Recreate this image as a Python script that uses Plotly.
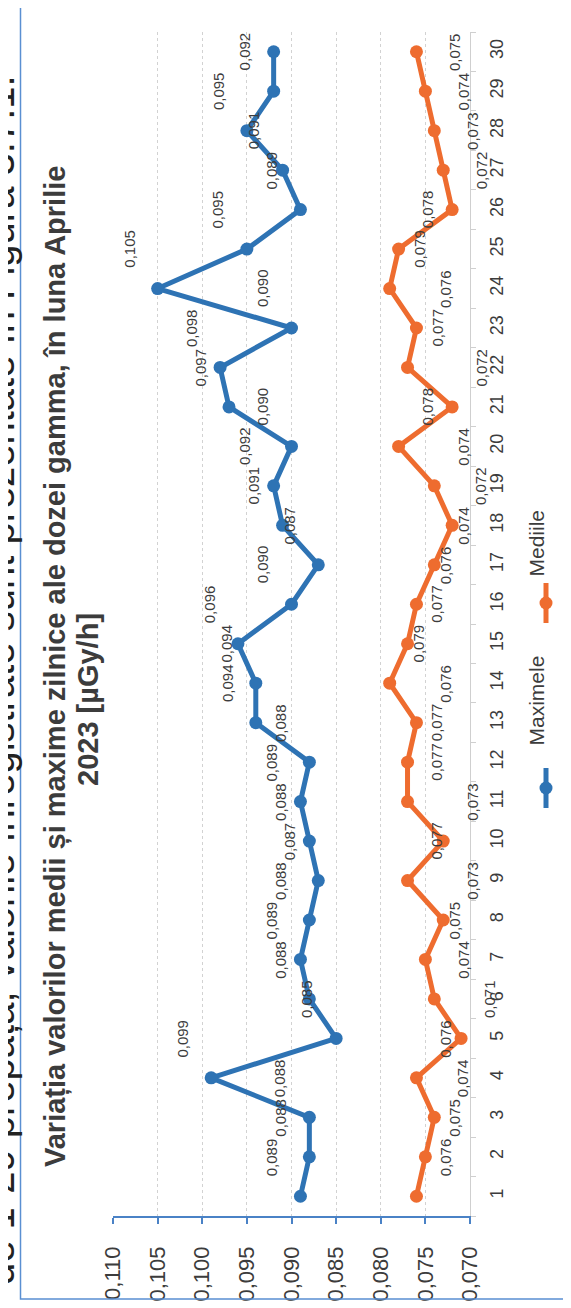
import plotly.graph_objects as go

days = [str(d) for d in range(1, 31)]
maximele = [0.089, 0.088, 0.088, 0.099, 0.085, 0.088, 0.089, 0.088, 0.087, 0.088,
            0.089, 0.088, 0.094, 0.094, 0.096, 0.090, 0.087, 0.091, 0.092, 0.090,
            0.097, 0.098, 0.090, 0.105, 0.095, 0.089, 0.091, 0.095, 0.092, 0.092]
mediile = [0.076, 0.075, 0.074, 0.076, 0.071, 0.074, 0.075, 0.073, 0.077, 0.073,
           0.077, 0.077, 0.076, 0.079, 0.077, 0.076, 0.074, 0.072, 0.074, 0.078,
           0.072, 0.077, 0.076, 0.079, 0.078, 0.072, 0.073, 0.074, 0.075, 0.076]
value_ticks = [0.110, 0.105, 0.100, 0.095, 0.090, 0.085, 0.080, 0.075, 0.070]
series_names = ["Maximele", "Mediile"]
title_lines = ["Variația valorilor medii și maxime zilnice ale dozei gamma, în luna Aprilie",
               "2023 [µGy/h]"]
doc_text = "de 1-29 prepață, valorile înregistrate sunt prezentate în Figura 3.7.1."

W, H = 571, 1308
L, R, T, B = 105, 571 - 462, 24, 1308 - 1208
PW, PH = W - L - R, H - T - B

BLUE = "#2e73b4"
ORANGE = "#ee6c2f"
FONT = "Liberation Sans, Arial, sans-serif"
TXT = "#3c3c3c"


def px(x):
    return (x - L) / PW


def py(y):
    return (H - B - y) / PH


def fmt(v):
    return f"{v:.3f}".replace(".", ",")


fig = go.Figure()
fig.add_trace(go.Scatter(x=maximele, y=days, mode="lines+markers", name=series_names[0],
                         line=dict(color=BLUE, width=5), marker=dict(size=13, color=BLUE),
                         cliponaxis=False))
fig.add_trace(go.Scatter(x=mediile, y=days, mode="lines+markers", name=series_names[1],
                         line=dict(color=ORANGE, width=5), marker=dict(size=13, color=ORANGE),
                         cliponaxis=False))

annotations = []
for d, v in zip(days, maximele):
    annotations.append(dict(x=v, y=d, xref="x", yref="y", text=fmt(v), showarrow=False,
                            textangle=-90, xshift=-29, font=dict(size=15, color=TXT, family=FONT)))
for d, v in zip(days, mediile):
    annotations.append(dict(x=v, y=d, xref="x", yref="y", text=fmt(v), showarrow=False,
                            textangle=-90, xshift=29, font=dict(size=15, color=TXT, family=FONT)))

# title (rotated, two lines placed separately)
for line, cx, cy in [(title_lines[0], 47, 659), (title_lines[1], 80, 692)]:
    annotations.append(dict(x=px(cx), y=py(cy), xref="paper", yref="paper", text="<b>" + line + "</b>",
                            showarrow=False, textangle=-90, xanchor="center", yanchor="middle",
                            font=dict(size=29, color=TXT, family=FONT)))
# clipped document text at the left edge
annotations.append(dict(x=px(-8), y=py(672), xref="paper", yref="paper", text=doc_text,
                        showarrow=False, textangle=-90, xanchor="center", yanchor="middle",
                        font=dict(size=40, color="#222222", family=FONT)))

# manual rotated legend
shapes = []
leg = [(series_names[0], BLUE, 780, 693), (series_names[1], ORANGE, 595, 535)]
for name, col, ys, yt in leg:
    shapes.append(dict(type="line", xref="paper", yref="paper", x0=px(538), x1=px(538),
                       y0=py(ys + 20), y1=py(ys - 20), line=dict(color=col, width=5)))
    shapes.append(dict(type="circle", xref="paper", yref="paper", x0=px(531.5), x1=px(544.5),
                       y0=py(ys + 6.5), y1=py(ys - 6.5), fillcolor=col, line=dict(color=col, width=0)))
    annotations.append(dict(x=px(541), y=py(yt), xref="paper", yref="paper", text=name, showarrow=False,
                            textangle=-90, font=dict(size=21, color=TXT, family=FONT)))

# chart border
shapes.append(dict(type="rect", xref="paper", yref="paper", x0=px(12.5), x1=px(620), y0=py(-20), y1=py(1291),
                   line=dict(color="#5a8fd2", width=1.5)))

fig.update_layout(
    width=W, height=H, margin=dict(l=L, r=R, t=T, b=B),
    paper_bgcolor="white", plot_bgcolor="white",
    separators=", ", showlegend=False,
    font=dict(family=FONT, color=TXT),
    annotations=annotations, shapes=shapes,
    xaxis=dict(range=[0.110, 0.070], tickvals=value_ticks, tickformat=".3f", tickangle=-90,
               showgrid=True, gridcolor="#d2d2d2", griddash="dot", gridwidth=1,
               showline=True, linecolor="#4a82c6", linewidth=1.5,
               ticks="outside", ticklen=6, tickcolor="#4a82c6", tickwidth=1.5,
               ticklabelstandoff=14,
               tickfont=dict(size=22, color=TXT, family=FONT), zeroline=False),
    yaxis=dict(type="category", categoryorder="array", categoryarray=days, side="right",
               range=[-0.5, 29.5], tickangle=-90, showgrid=False,
               showline=True, linecolor="#cfcfcf", linewidth=1,
               ticks="outside", tickson="boundaries", ticklen=5, tickcolor="#cfcfcf",
               ticklabelstandoff=10,
               tickfont=dict(size=18, color=TXT, family=FONT)),
)

fig.write_html("out.html")
